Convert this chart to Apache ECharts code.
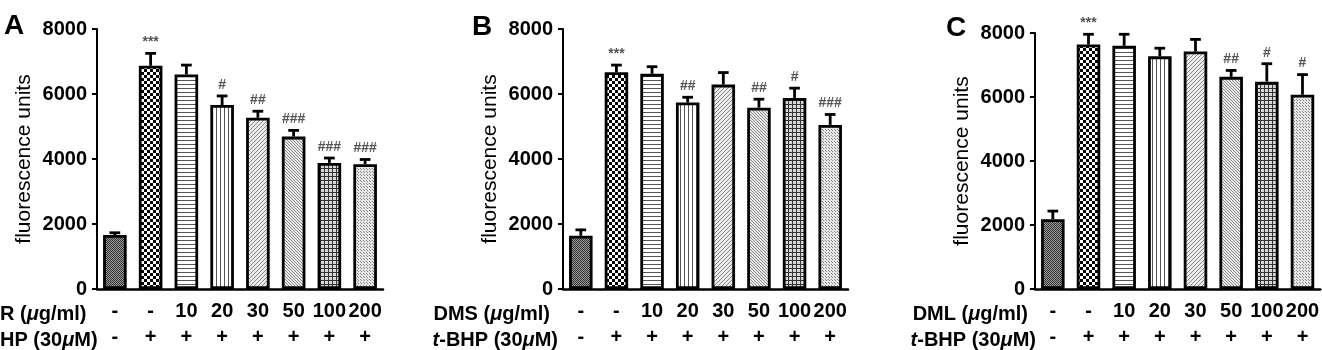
<!DOCTYPE html>
<html>
<head>
<meta charset="utf-8">
<script src="https://cdn.jsdelivr.net/npm/echarts@6/dist/echarts.min.js"></script>
<style>
  html, body { margin: 0; padding: 0; background: #fff; }
  #main { width: 1322px; height: 350px; }
</style>
</head>
<body>
<div id="main"></div>
<script>
// data
var tbhp = ['-', '+', '+', '+', '+', '+', '+', '+'];
var dose = ['-', '-', '10', '20', '30', '50', '100', '200'];

var meanA = [1660, 6870, 6600, 5660, 5270, 4690, 3880, 3840];
var errA  = [70, 380, 290, 280, 200, 190, 150, 145];
var markA = ['', '***', '', '#', '##', '###', '###', '###'];

var meanB = [1640, 6670, 6620, 5740, 6290, 5580, 5880, 5050];
var errB  = [180, 220, 220, 160, 370, 260, 300, 320];
var markB = ['', '***', '', '##', '', '##', '#', '###'];

var meanC = [2180, 7640, 7600, 7270, 7420, 6630, 6480, 6070];
var errC  = [255, 320, 360, 255, 380, 200, 560, 630];
var markC = ['', '***', '', '', '', '##', '#', '#'];

var yTicks = { min: 0, max: 8000, interval: 2000 };

var FONT = '"Liberation Sans", Arial, sans-serif';

// fill patterns, one per group
function pat(w, h, draw) {
  var c = document.createElement('canvas');
  c.width = w; c.height = h;
  var g = c.getContext('2d');
  draw(g);
  return { image: c, repeat: 'repeat' };
}
var patterns = [
  // dark stipple
  pat(2, 2, function(g) { g.fillStyle = '#9a9a9a'; g.fillRect(0, 0, 2, 2); g.fillStyle = '#333'; g.fillRect(0, 0, 1, 1); g.fillRect(1, 1, 1, 1); }),
  // coarse checker
  pat(6, 6, function(g) { g.fillStyle = '#000'; g.fillRect(0, 0, 6, 6); g.fillStyle = '#fff'; g.fillRect(0, 0, 3, 3); g.fillRect(3, 3, 3, 3); }),
  // horizontal lines
  pat(4, 4, function(g) { g.fillStyle = '#fff'; g.fillRect(0, 0, 4, 4); g.fillStyle = '#555'; g.fillRect(0, 0, 4, 1); }),
  // vertical lines
  pat(4, 4, function(g) { g.fillStyle = '#fff'; g.fillRect(0, 0, 4, 4); g.fillStyle = '#555'; g.fillRect(0, 0, 1, 4); }),
  // fine diagonal
  pat(4, 4, function(g) { g.fillStyle = '#eaeaea'; g.fillRect(0, 0, 4, 4); g.fillStyle = '#8a8a8a'; for (var i = 0; i < 4; i++) g.fillRect(i, 3 - i, 1, 1); }),
  // fine diagonal, other way
  pat(3, 3, function(g) { g.fillStyle = '#e8e8e8'; g.fillRect(0, 0, 3, 3); g.fillStyle = '#8c8c8c'; for (var i = 0; i < 3; i++) g.fillRect(i, i, 1, 1); }),
  // grid
  pat(4, 4, function(g) { g.fillStyle = '#d8d8d8'; g.fillRect(0, 0, 4, 4); g.fillStyle = '#333'; g.fillRect(0, 0, 4, 1); g.fillRect(0, 0, 1, 4); }),
  // light dots
  pat(3, 3, function(g) { g.fillStyle = '#e6e6e6'; g.fillRect(0, 0, 3, 3); g.fillStyle = '#888'; g.fillRect(1, 1, 1, 1); g.fillRect(0, 0, 1, 1); })
];

var catLabels = dose.map(function(d, i) { return d + '\n' + tbhp[i]; });

var panels = [
  { mean: meanA, err: errA, mark: markA, grid: { left: 97, top: 29, width: 286, height: 263 } },
  { mean: meanB, err: errB, mark: markB, grid: { left: 563, top: 29, width: 285, height: 264 } },
  { mean: meanC, err: errC, mark: markC, grid: { left: 1035, top: 33, width: 288, height: 261 } }
];

var grids = [], xAxes = [], yAxes = [], series = [];

panels.forEach(function(p, k) {
  grids.push(p.grid);
  xAxes.push({
    type: 'category', gridIndex: k, data: catLabels,
    axisLine: { lineStyle: { color: '#000', width: 2.5 } },
    axisTick: { alignWithLabel: true, length: 5, lineStyle: { color: '#000', width: 2 } },
    axisLabel: { interval: 0, margin: 9, lineHeight: 26, color: '#000', fontSize: 20, fontWeight: 'bold', fontFamily: FONT }
  });
  yAxes.push({
    type: 'value', gridIndex: k, min: yTicks.min, max: yTicks.max, interval: yTicks.interval,
    name: 'fluorescence units', nameLocation: 'middle', nameRotate: 90, nameGap: 62,
    nameTextStyle: { color: '#000', fontSize: 21, fontFamily: FONT },
    splitLine: { show: false },
    axisLine: { show: true, lineStyle: { color: '#000', width: 2 } },
    axisTick: { show: true, length: 5, lineStyle: { color: '#000', width: 2 } },
    axisLabel: { margin: 10, color: '#000', fontSize: 20, fontWeight: 'bold', fontFamily: FONT,
      formatter: function(v) { return String(v); } }
  });
  series.push({
    type: 'bar', xAxisIndex: k, yAxisIndex: k, barWidth: '66%',
    data: p.mean.map(function(v, i) {
      return { value: v, itemStyle: { color: patterns[i], borderColor: '#000', borderWidth: 2.8 } };
    }),
    z: 2
  });
  series.push({
    type: 'custom', xAxisIndex: k, yAxisIndex: k, z: 3,
    data: p.mean.map(function(v, i) { return [i, v, p.err[i]]; }),
    renderItem: function(params, api) {
      var x = api.value(0), m = api.value(1), e = api.value(2);
      var base = api.coord([x, m]);
      var top = api.coord([x, m + e]);
      var half = api.size([1, 0])[0] * 0.15;
      var st = { stroke: '#000', lineWidth: 2.8 };
      return {
        type: 'group',
        children: [
          { type: 'line', shape: { x1: base[0], y1: base[1], x2: top[0], y2: top[1] }, style: st },
          { type: 'line', shape: { x1: top[0] - half, y1: top[1], x2: top[0] + half, y2: top[1] }, style: st },
          { type: 'text', x: top[0], y: top[1] - 11,
            style: { text: p.mark[params.dataIndex], fill: '#555', font: 'bold 14px ' + FONT, align: 'center', verticalAlign: 'middle' } }
        ]
      };
    }
  });
});

function rowText(left, right, y, parts) {
  var el = {
    type: 'text', y: y,
    style: {
      text: parts.map(function(s) { return '{' + s[0] + '|' + s[1] + '}'; }).join(''),
      verticalAlign: 'middle',
      rich: {
        n: { fontSize: 20, fontWeight: 'bold', fontFamily: FONT, fill: '#000' },
        i: { fontSize: 20, fontWeight: 'bold', fontStyle: 'italic', fontFamily: FONT, fill: '#000' }
      }
    }
  };
  if (right != null) { el.x = right; el.style.align = 'right'; } else { el.x = left; el.style.align = 'left'; }
  return el;
}
function letter(x, y, s) {
  return { type: 'text', x: x, y: y, style: { text: s, font: 'bold 28px ' + FONT, fill: '#000', verticalAlign: 'middle' } };
}

var option = {
  animation: false,
  backgroundColor: '#fff',
  grid: grids,
  xAxis: xAxes,
  yAxis: yAxes,
  series: series,
  graphic: [
    letter(4, 26, 'A'), letter(472, 27, 'B'), letter(946, 28, 'C'),
    rowText(0, null, 314, [['n', 'R ('], ['i', 'μ'], ['n', 'g/ml)']]),
    rowText(0, null, 340, [['n', 'HP (30'], ['i', 'μ'], ['n', 'M)']]),
    rowText(null, 550, 314, [['n', 'DMS ('], ['i', 'μ'], ['n', 'g/ml)']]),
    rowText(null, 558, 340, [['i', 't'], ['n', '-BHP (30'], ['i', 'μ'], ['n', 'M)']]),
    rowText(null, 1028, 314, [['n', 'DML ('], ['i', 'μ'], ['n', 'g/ml)']]),
    rowText(null, 1036, 340, [['i', 't'], ['n', '-BHP (30'], ['i', 'μ'], ['n', 'M)']])
  ]
};

var myChart = echarts.init(document.getElementById('main'));
myChart.setOption(option);
</script>
</body>
</html>
